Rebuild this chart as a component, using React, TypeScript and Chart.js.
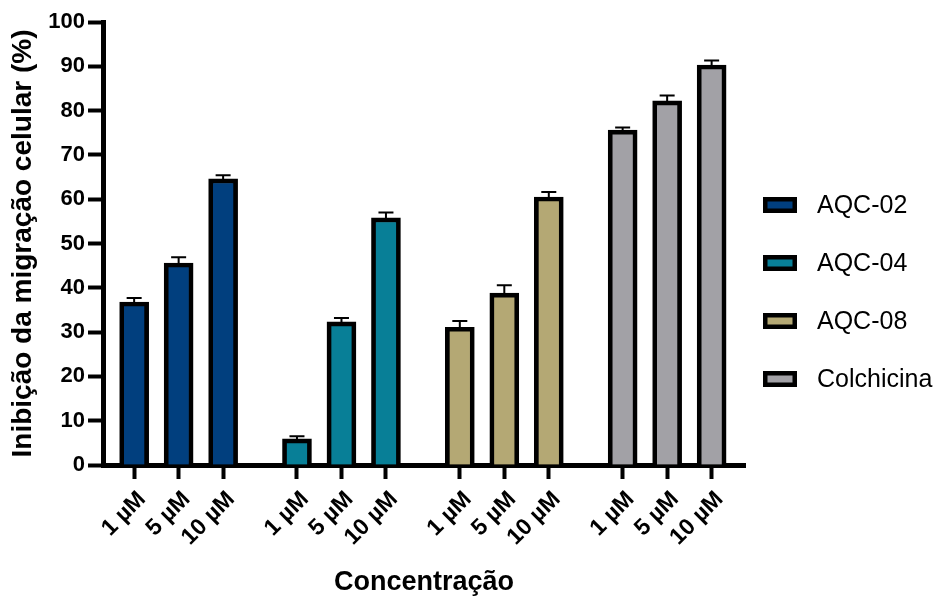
import React, { useEffect, useRef } from "react";
import { Chart, registerables } from "chart.js";

Chart.register(...registerables);

// ---- data ----
const seriesNames = ["AQC-02", "AQC-04", "AQC-08", "Colchicina"];
const concLabels = ["1 µM", "5 µM", "10 µM"];
const aqc02 = [36.8, 45.6, 64.6];
const aqc02Err = [0.9, 1.3, 0.8];
const aqc04 = [5.9, 32.3, 55.8];
const aqc04Err = [0.6, 0.9, 1.2];
const aqc08 = [31.1, 38.8, 60.5];
const aqc08Err = [1.4, 1.8, 1.1];
const colch = [75.6, 82.2, 90.3];
const colchErr = [0.6, 1.2, 1.0];
const seriesColors = ["#013f7e", "#087f97", "#b4a874", "#a2a1a6"];

const yMin = 0;
const yMax = 100;
const yStep = 10;

const FONT = 'Arial, "Liberation Sans", sans-serif';
const GROUP_STEP = 3.66;

const allValues = [aqc02, aqc04, aqc08, colch];
const allErrors = [aqc02Err, aqc04Err, aqc08Err, colchErr];

const xPositions: number[] = [];
allValues.forEach((vals, g) => vals.forEach((_, i) => xPositions.push(g * GROUP_STEP + i)));

const errorBarPlugin = {
  id: "errorBars",
  afterDatasetsDraw(chart: any) {
    const ctx = chart.ctx;
    const yScale = chart.scales.y;
    chart.data.datasets.forEach((ds: any, di: number) => {
      const meta = chart.getDatasetMeta(di);
      meta.data.forEach((bar: any, i: number) => {
        const v = ds.data[i].y;
        const e = ds.errors[i];
        const top = yScale.getPixelForValue(v + e);
        ctx.save();
        ctx.strokeStyle = "#000";
        ctx.lineWidth = 2;
        ctx.beginPath();
        ctx.moveTo(bar.x, bar.y + 3);
        ctx.lineTo(bar.x, top);
        ctx.moveTo(bar.x - 7.5, top);
        ctx.lineTo(bar.x + 7.5, top);
        ctx.stroke();
        ctx.restore();
      });
    });
  },
};

const legendPlugin = {
  id: "sideLegend",
  afterDraw(chart: any) {
    const { ctx, chartArea } = chart;
    const x0 = chartArea.right + 18;
    let yc = chartArea.top + 183;
    chart.data.datasets.forEach((ds: any) => {
      ctx.save();
      ctx.fillStyle = "#000";
      ctx.fillRect(x0, yc - 8, 34, 16);
      ctx.fillStyle = ds.backgroundColor;
      ctx.fillRect(x0 + 4.5, yc - 3.5, 25, 7);
      ctx.fillStyle = "#000";
      ctx.font = `25px ${FONT}`;
      ctx.textBaseline = "middle";
      ctx.textAlign = "left";
      ctx.fillText(ds.label, x0 + 54, yc + 1);
      ctx.restore();
      yc += 58;
    });
  },
};

export default function App() {
  const canvasRef = useRef<HTMLCanvasElement | null>(null);

  useEffect(() => {
    document.body.style.margin = "0";
    if (!canvasRef.current) return;
    Chart.defaults.font.family = FONT;
    const datasets = seriesNames.map((name, g) => ({
      label: name,
      data: allValues[g].map((v, i) => ({ x: g * GROUP_STEP + i, y: v })),
      errors: allErrors[g],
      backgroundColor: seriesColors[g],
      borderColor: "#000",
      borderWidth: 4.7,
      barThickness: 29,
      grouped: false,
    }));
    const chart = new Chart(canvasRef.current, {
      type: "bar",
      data: { datasets: datasets as any },
      plugins: [errorBarPlugin, legendPlugin],
      options: {
        animation: false,
        responsive: true,
        maintainAspectRatio: false,
        layout: { padding: { top: 22, right: 191, left: 0, bottom: 0 } },
        plugins: { legend: { display: false }, tooltip: { enabled: false } },
        scales: {
          x: {
            type: "linear",
            offset: false,
            min: -0.7,
            max: 13.73,
            afterBuildTicks: (s: any) => {
              s.ticks = xPositions.map((v) => ({ value: v }));
            },
            afterFit: (s: any) => {
              s.height = 134;
            },
            ticks: {
              autoSkip: false,
              minRotation: 45,
              maxRotation: 45,
              padding: 7,
              labelOffset: 8,
              color: "#000",
              font: { family: FONT, size: 23, weight: "bold" },
              callback: (_v: any, i: number) => concLabels[i % concLabels.length],
            },
            grid: {
              offset: false,
              drawOnChartArea: false,
              drawTicks: true,
              tickLength: 14,
              tickWidth: 4,
              tickColor: "#000",
            },
            border: { color: "#000", width: 5 },
            title: {
              display: true,
              text: "Concentração",
              color: "#000",
              font: { family: FONT, size: 27, weight: "bold" },
              padding: { top: 0, bottom: 0 },
            },
          } as any,
          y: {
            min: yMin,
            max: yMax,
            afterFit: (s: any) => {
              s.width = 103;
            },
            ticks: {
              stepSize: yStep,
              padding: 3,
              color: "#000",
              font: { family: FONT, size: 22, weight: "bold" },
            },
            grid: {
              drawOnChartArea: false,
              drawTicks: true,
              tickLength: 15,
              tickWidth: 4,
              tickColor: "#000",
            },
            border: { color: "#000", width: 5 },
            title: {
              display: true,
              text: "Inibição da migração celular (%)",
              color: "#000",
              font: { family: FONT, size: 28, weight: "bold" },
              padding: { top: 6, bottom: 0 },
            },
          } as any,
        },
      },
    });
    return () => chart.destroy();
  }, []);

  return (
    <div style={{ width: 936, height: 599, position: "relative" }}>
      <canvas ref={canvasRef} />
    </div>
  );
}
